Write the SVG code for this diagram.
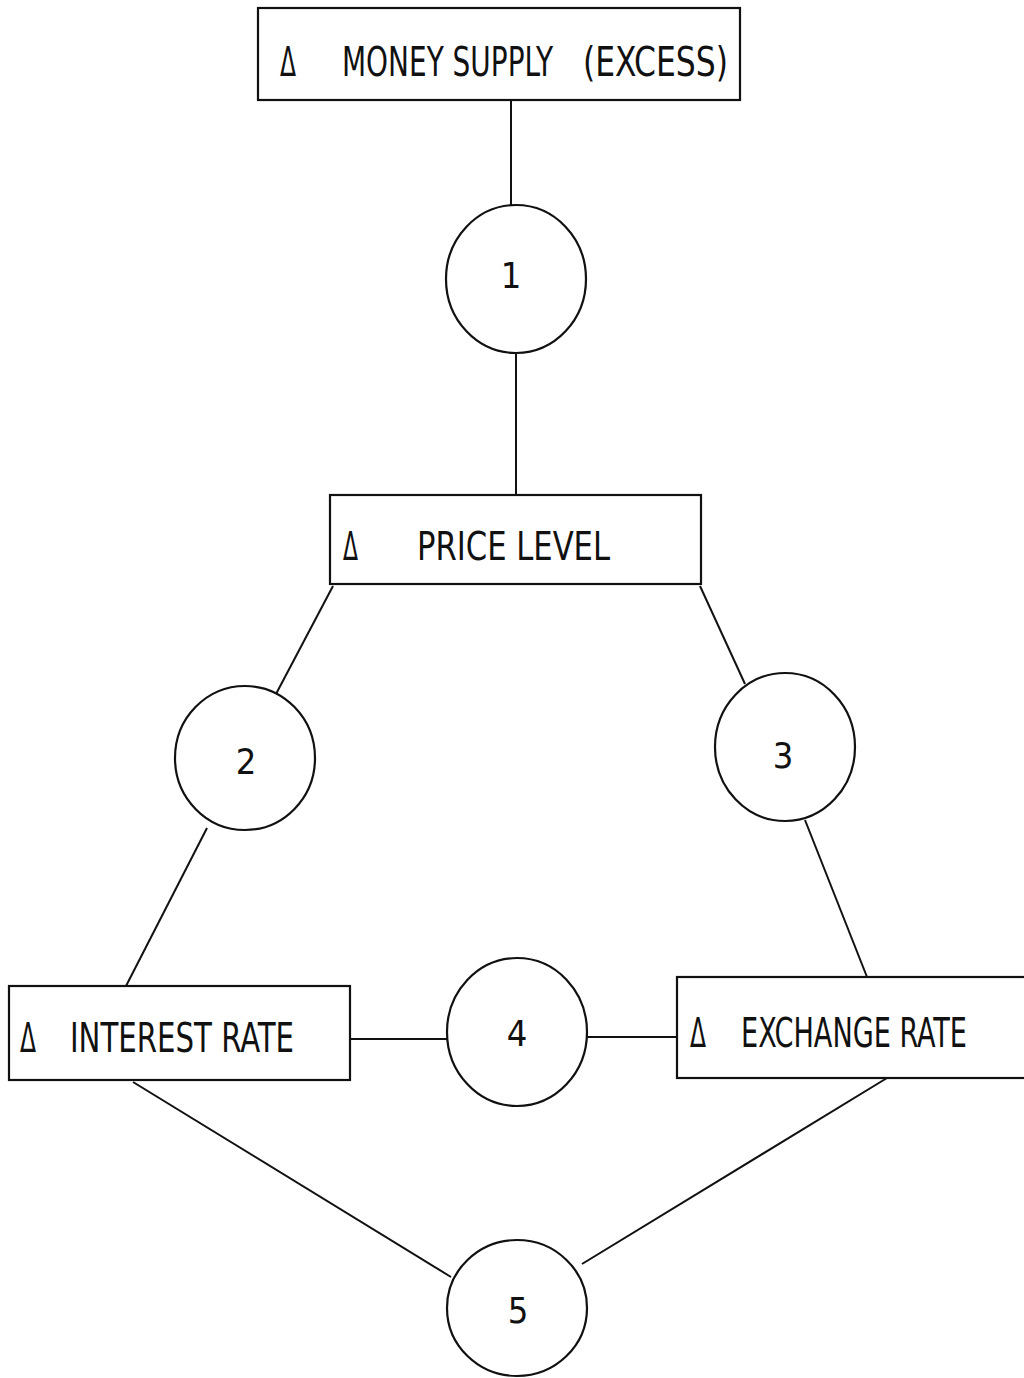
<svg xmlns="http://www.w3.org/2000/svg" width="1024" height="1378" viewBox="0 0 1024 1378">
<style>
.box{fill:#fff;stroke:#111;stroke-width:2.2}
.circ{fill:none;stroke:#111;stroke-width:2.2}
.con line{stroke:#111;stroke-width:2}
.t{font-family:"DejaVu Sans Condensed","Liberation Sans Narrow","Liberation Sans",sans-serif;font-size:36px;fill:#111}
.n{font-family:"DejaVu Sans Condensed","Liberation Sans Narrow","Liberation Sans",sans-serif;font-size:36px;fill:#111;text-anchor:middle}
</style>
<rect width="1024" height="1378" fill="#fff"/>
<g class="con">
<line x1="511" y1="100" x2="511" y2="205"/>
<line x1="516" y1="353" x2="516" y2="495"/>
<line x1="333" y1="586" x2="276" y2="694"/>
<line x1="207" y1="828" x2="125" y2="988"/>
<line x1="700" y1="586" x2="745" y2="684"/>
<line x1="805" y1="820" x2="867" y2="977"/>
<line x1="350" y1="1039" x2="447" y2="1039"/>
<line x1="587" y1="1037" x2="677" y2="1037"/>
<line x1="133" y1="1082" x2="451" y2="1277"/>
<line x1="887" y1="1078" x2="582" y2="1264"/>
</g>
<g id="money-supply">
<rect class="box" x="258" y="8" width="482" height="92"/>
<text class="t" transform="translate(280,76) scale(1,1.12)" textLength="16" lengthAdjust="spacingAndGlyphs">Δ</text>
<text class="t" transform="translate(342,76) scale(1,1.12)" textLength="211" lengthAdjust="spacingAndGlyphs">MONEY SUPPLY</text>
<text class="t" transform="translate(583,76) scale(1,1.12)" textLength="145" lengthAdjust="spacingAndGlyphs">(EXCESS)</text>
</g>
<g id="c1"><ellipse class="circ" cx="516" cy="279" rx="70" ry="74"/><text class="n" x="511" y="288">1</text></g>
<g id="price-level">
<rect class="box" x="330" y="495" width="371" height="89"/>
<text class="t" transform="translate(343,560) scale(1,1.1)" textLength="15" lengthAdjust="spacingAndGlyphs">Δ</text>
<text class="t" transform="translate(417,560) scale(1,1.1)" textLength="193" lengthAdjust="spacingAndGlyphs">PRICE LEVEL</text>
</g>
<g id="c2"><ellipse class="circ" cx="245" cy="758" rx="70" ry="72"/><text class="n" x="246" y="774">2</text></g>
<g id="c3"><ellipse class="circ" cx="785" cy="747" rx="70" ry="74"/><text class="n" x="783" y="768">3</text></g>
<g id="interest-rate">
<rect class="box" x="9" y="986" width="341" height="94"/>
<text class="t" transform="translate(20,1052) scale(1,1.12)" textLength="16" lengthAdjust="spacingAndGlyphs">Δ</text>
<text class="t" transform="translate(70,1052) scale(1,1.12)" textLength="224" lengthAdjust="spacingAndGlyphs">INTEREST RATE</text>
</g>
<g id="c4"><ellipse class="circ" cx="517" cy="1032" rx="70" ry="74"/><text class="n" x="517" y="1046">4</text></g>
<g id="exchange-rate">
<rect class="box" x="677" y="977" width="360" height="101"/>
<text class="t" transform="translate(690,1047) scale(1,1.12)" textLength="16" lengthAdjust="spacingAndGlyphs">Δ</text>
<text class="t" transform="translate(741,1047) scale(1,1.12)" textLength="226" lengthAdjust="spacingAndGlyphs">EXCHANGE RATE</text>
</g>
<g id="c5"><ellipse class="circ" cx="517" cy="1308" rx="70" ry="68"/><text class="n" x="518" y="1323">5</text></g>
</svg>
